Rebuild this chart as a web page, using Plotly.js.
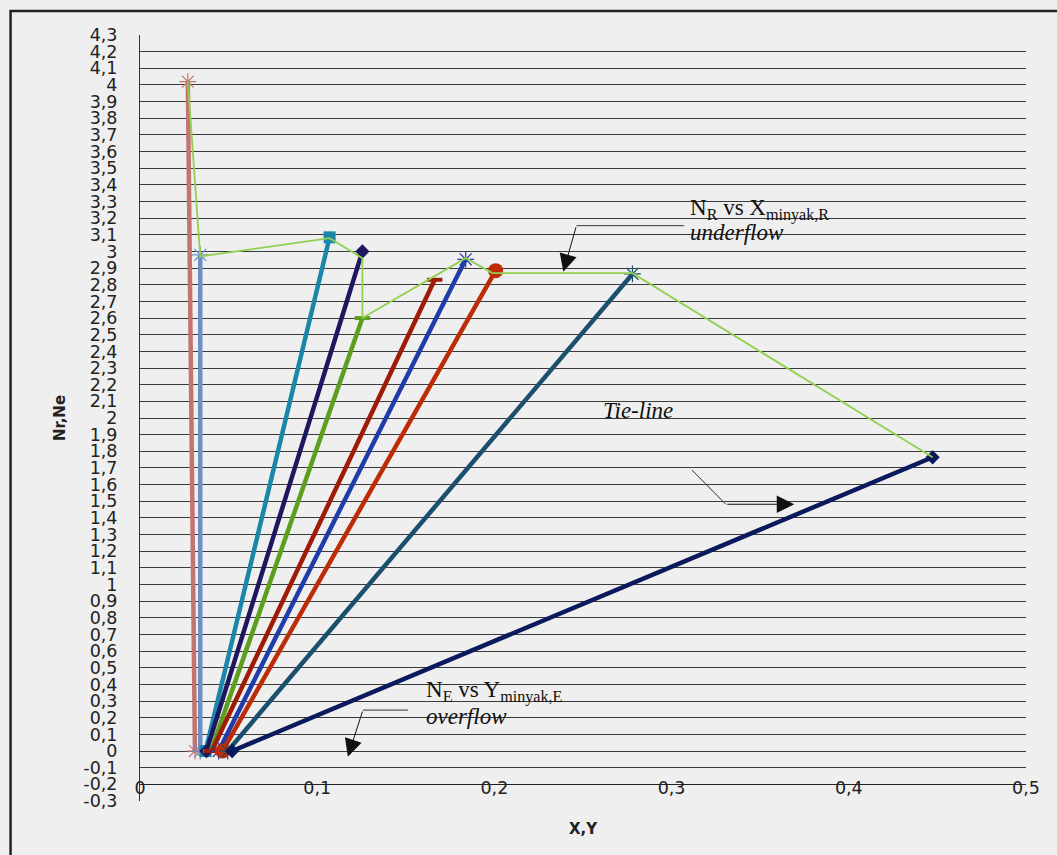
<!DOCTYPE html>
<html>
<head>
<meta charset="utf-8">
<script src="https://cdn.plot.ly/plotly-3.0.1.min.js"></script>
<style>html,body{margin:0;padding:0;background:#efefef;}#chart{width:1057px;height:855px;}</style>
</head>
<body>
<div id="chart"></div>
<script>
// Tie-lines: each from overflow point (N_E vs Y) to underflow point (N_R vs X)
const tieNames   = ["Tie 1","Tie 2","Tie 3","Tie 4","Tie 5","Tie 6","Tie 7","Tie 8","Tie 9","Tie 10"];
const tieColors  = ["#C27470","#6E8FC4","#1A86AA","#1E165E","#5C9E1E","#9E1C06","#1F3CA8","#BD2C06","#1B4F6E","#0B1A5C"];
const tieSymbols = ["asterisk-open","asterisk-open","square","diamond","line-ew-open","line-ew-open","asterisk-open","circle","asterisk-open","diamond"];
const tieYminyak = [0.031, 0.034, 0.037, 0.0375, 0.040, 0.0405, 0.0444, 0.0466, 0.0495, 0.052];   // overflow Y
const tieNE      = [0, 0, 0, 0, 0, 0, 0, 0, 0, 0];
const tieXminyak = [0.027, 0.034, 0.107, 0.1255, 0.1255, 0.1663, 0.1838, 0.2007, 0.2779, 0.4473]; // underflow X
const tieNR      = [4.02, 2.98, 3.085, 3.0, 2.6, 2.83, 2.953, 2.885, 2.865, 1.764];

// Underflow curve N_R vs X_minyak,R
const underX = [0.027, 0.034, 0.107, 0.1255, 0.1255, 0.1838, 0.1989, 0.2779, 0.4473];
const underN = [4.02, 2.97, 3.08, 2.96, 2.6, 2.96, 2.87, 2.87, 1.764];

const xTickVals = [0, 0.1, 0.2, 0.3, 0.4, 0.5];
const xTickText = ["0", "0,1", "0,2", "0,3", "0,4", "0,5"];
const yTickVals = [-0.3,-0.2,-0.1,0,0.1,0.2,0.3,0.4,0.5,0.6,0.7,0.8,0.9,1,1.1,1.2,1.3,1.4,1.5,1.6,1.7,1.8,1.9,2,2.1,2.2,2.3,2.4,2.5,2.6,2.7,2.8,2.9,3,3.1,3.2,3.3,3.4,3.5,3.6,3.7,3.8,3.9,4,4.1,4.2,4.3];
const yTickText = ["-0,3","-0,2","-0,1","0","0,1","0,2","0,3","0,4","0,5","0,6","0,7","0,8","0,9","1","1,1","1,2","1,3","1,4","1,5","1,6","1,7","1,8","1,9","2","2,1","2,2","2,3","2,4","2,5","2,6","2,7","2,8","2,9","3","3,1","3,2","3,3","3,4","3,5","3,6","3,7","3,8","3,9","4","4,1","4,2","4,3"];

const traces = [];
for (let i = 0; i < tieNames.length; i++) {
  const sym = tieSymbols[i];
  const open = sym.indexOf("open") >= 0;
  let size = 11;
  if (sym === "circle") size = 15;
  if (sym === "square") size = 12;
  if (sym.indexOf("asterisk") >= 0) size = 14;
  traces.push({
    type: "scatter", mode: "lines+markers", name: tieNames[i],
    x: [tieYminyak[i], tieXminyak[i]], y: [tieNE[i], tieNR[i]],
    line: {color: tieColors[i], width: 4.5},
    marker: {symbol: sym, size: size, color: tieColors[i],
             line: {color: tieColors[i], width: open ? (sym.indexOf("line") >= 0 ? 4 : 1.2) : 0}},
    hoverinfo: "x+y"
  });
}
traces.push({
  type: "scatter", mode: "lines", name: "Underflow",
  x: underX, y: underN, line: {color: "#92D050", width: 1.8}, hoverinfo: "x+y"
});

const serif = {family: "Liberation Serif, Times New Roman, serif", size: 23, color: "#111"};
const lineCol = "#333";
const tickFont = {family: "DejaVu Sans, sans-serif", size: 17.5, color: "#222"};

const layout = {
  width: 1057, height: 855,
  margin: {l: 139.5, r: 31, t: 35, b: 54},
  paper_bgcolor: "#efefef", plot_bgcolor: "#efefef",
  showlegend: false,
  font: {family: "DejaVu Sans, sans-serif", size: 16, color: "#222"},
  xaxis: {
    range: [0, 0.5], anchor: "free", position: 0.1 / 4.6,
    tickmode: "array", tickvals: xTickVals, ticktext: xTickText,
    showgrid: false, zeroline: false, showline: true, linecolor: "#222", linewidth: 1,
    ticks: "", ticklabelstandoff: -12,
    tickfont: tickFont,
    title: {text: "<b>X,Y</b>", font: {family: "DejaVu Sans, sans-serif", size: 15, color: "#222"}, standoff: 26}
  },
  yaxis: {
    range: [-0.3, 4.3],
    tickmode: "array", tickvals: yTickVals, ticktext: yTickText,
    showgrid: true, gridcolor: "#3a3a3a", gridwidth: 1,
    zeroline: false, showline: true, linecolor: "#333", linewidth: 1,
    ticks: "", ticklabelstandoff: 18,
    tickfont: tickFont,
    title: {text: "<b>Nr,Ne</b>", font: {family: "DejaVu Sans, sans-serif", size: 15, color: "#222"}, standoff: 14}
  },
  shapes: [
    // outer frame
    {type: "rect", xref: "paper", yref: "paper", x0: -0.1461, x1: 1.2, y0: -0.2, y1: 1.0313,
     line: {color: "#222", width: 2.5}, fillcolor: "rgba(0,0,0,0)", layer: "below"},
    // leader segments
    {type: "line", xref: "x", yref: "y", x0: 0.3069, y0: 3.155, x1: 0.2463, y1: 3.155, line: {color: lineCol, width: 1}},
    {type: "line", xref: "x", yref: "y", x0: 0.1512, y0: 0.246, x1: 0.1258, y1: 0.246, line: {color: lineCol, width: 1}},
    {type: "line", xref: "x", yref: "y", x0: 0.3114, y0: 1.688, x1: 0.3306, y1: 1.482, line: {color: lineCol, width: 1}}
  ],
  annotations: [
    {xref: "x", yref: "y", x: 0.3095, y: 3.255, xanchor: "left", yanchor: "middle", showarrow: false,
     text: "N<sub>R</sub> vs X<sub>minyak,R</sub>", font: serif},
    {xref: "x", yref: "y", x: 0.3095, y: 3.115, xanchor: "left", yanchor: "middle", showarrow: false,
     text: "<i>underflow</i>", font: serif},
    {xref: "x", yref: "y", x: 0.160, y: 0.355, xanchor: "left", yanchor: "middle", showarrow: false,
     text: "N<sub>E</sub> vs Y<sub>minyak,E</sub>", font: serif},
    {xref: "x", yref: "y", x: 0.160, y: 0.21, xanchor: "left", yanchor: "middle", showarrow: false,
     text: "<i>overflow</i>", font: serif},
    {xref: "x", yref: "y", x: 0.281, y: 2.048, xanchor: "center", yanchor: "middle", showarrow: false,
     text: "<i>Tie-line</i>", font: serif},
    // arrows
    {xref: "x", yref: "y", axref: "x", ayref: "y", x: 0.2389, y: 2.879, ax: 0.2463, ay: 3.155,
     text: "", showarrow: true, arrowhead: 2, arrowsize: 3.5, arrowwidth: 1, arrowcolor: "#111", standoff: 0},
    {xref: "x", yref: "y", axref: "x", ayref: "y", x: 0.1173, y: -0.034, ax: 0.1258, ay: 0.246,
     text: "", showarrow: true, arrowhead: 2, arrowsize: 3.5, arrowwidth: 1, arrowcolor: "#111", standoff: 0},
    {xref: "x", yref: "y", axref: "x", ayref: "y", x: 0.3692, y: 1.482, ax: 0.3306, ay: 1.482,
     text: "", showarrow: true, arrowhead: 2, arrowsize: 3.5, arrowwidth: 1, arrowcolor: "#111", standoff: 0}
  ]
};

Plotly.newPlot("chart", traces, layout, {displayModeBar: false, staticPlot: true});
</script>
</body>
</html>
